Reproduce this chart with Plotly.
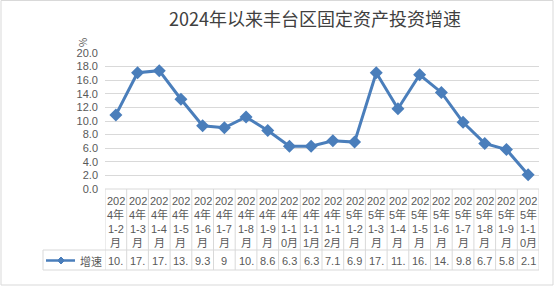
import plotly.graph_objects as go

# ---------------- data ----------------
TITLE = "2024年以来丰台区固定资产投资增速"
UNIT = "%"
SERIES_NAME = "增速"
CATEGORIES = [
    "2024年1-2月", "2024年1-3月", "2024年1-4月", "2024年1-5月", "2024年1-6月",
    "2024年1-7月", "2024年1-8月", "2024年1-9月", "2024年1-10月", "2024年1-11月",
    "2024年1-12月", "2025年1-2月", "2025年1-3月", "2025年1-4月", "2025年1-5月",
    "2025年1-6月", "2025年1-7月", "2025年1-8月", "2025年1-9月", "2025年1-10月",
]
VALUES = [10.9, 17.1, 17.4, 13.2, 9.3, 9.0, 10.6, 8.6, 6.3, 6.3,
          7.1, 6.9, 17.1, 11.8, 16.8, 14.2, 9.8, 6.7, 5.8, 2.1]
Y_TICKS = [0, 2, 4, 6, 8, 10, 12, 14, 16, 18, 20]

# ---------------- layout constants (pixels) ----------------
W, H = 556, 288
L, R, T, B = 105, 539, 53, 189          # plot area
HDR_BOTTOM = 250                         # bottom of header row of the data table
ROW_BOTTOM = 270                         # bottom of data row
LEG_LEFT = 43
LINE_COLOR = "#4a7ebb"
GRID = "#d9d9d9"
TXT = "#595959"
FONT = "Noto Sans CJK SC"
NUM_FONT = "Liberation Sans, Noto Sans CJK SC"


def px(x):
    return (x - L) / (R - L)


def py(y):
    return (B - y) / (B - T)


def wrap(label, cap=3):
    """Wrap label like a narrow Excel cell: ascii width 1, CJK width 2."""
    lines, cur, w = [], "", 0
    for ch in label:
        cw = 2 if ord(ch) > 255 else 1
        if w + cw > cap:
            lines.append(cur)
            cur, w = "", 0
        cur += ch
        w += cw
    if cur:
        lines.append(cur)
    return lines


def cell_text(v):
    s = f"{v:g}"
    return s[:3]


fig = go.Figure()
fig.add_trace(go.Scatter(
    x=CATEGORIES, y=VALUES, name=SERIES_NAME, mode="lines+markers",
    line=dict(color=LINE_COLOR, width=3),
    marker=dict(symbol="diamond", size=10, color=LINE_COLOR),
    showlegend=False, cliponaxis=False,
))

shapes = []
annotations = []
n = len(CATEGORIES)
# vertical table lines
for i in range(n + 1):
    shapes.append(dict(type="line", xref="x", yref="paper",
                       x0=i - 0.5, x1=i - 0.5, y0=py(B), y1=py(ROW_BOTTOM),
                       line=dict(color=GRID, width=1)))
# horizontal table lines
for yy, x0 in [(B, L), (HDR_BOTTOM, LEG_LEFT), (ROW_BOTTOM, LEG_LEFT)]:
    shapes.append(dict(type="line", xref="paper", yref="paper",
                       x0=px(x0), x1=px(R), y0=py(yy), y1=py(yy),
                       line=dict(color=GRID, width=1)))
# legend cell left border
shapes.append(dict(type="line", xref="paper", yref="paper",
                   x0=px(LEG_LEFT), x1=px(LEG_LEFT), y0=py(HDR_BOTTOM), y1=py(ROW_BOTTOM),
                   line=dict(color=GRID, width=1)))
# outer chart border
shapes.append(dict(type="rect", xref="paper", yref="paper",
                   x0=px(1), x1=px(553), y0=py(0.5), y1=py(285),
                   line=dict(color=GRID, width=1), layer="below"))
# legend key
ky = (HDR_BOTTOM + ROW_BOTTOM) / 2 + 0.5
shapes.append(dict(type="line", xref="paper", yref="paper",
                   x0=px(46), x1=px(75), y0=py(ky), y1=py(ky),
                   line=dict(color=LINE_COLOR, width=2.5)))
cx, d = 61, 3.5
path = (f"M {px(cx)},{py(ky - d)} L {px(cx + d)},{py(ky)} "
        f"L {px(cx)},{py(ky + d)} L {px(cx - d)},{py(ky)} Z")
shapes.append(dict(type="path", xref="paper", yref="paper", path=path,
                   fillcolor=LINE_COLOR, line=dict(color=LINE_COLOR, width=1)))

# header cells: one annotation per wrapped line, 14 px apart
HDR_LINE0 = 200.5
HDR_STEP = 14
for cat, v in zip(CATEGORIES, VALUES):
    for k, part in enumerate(wrap(cat)):
        annotations.append(dict(x=cat, xref="x", y=py(HDR_LINE0 + k * HDR_STEP), yref="paper",
                                text=part, showarrow=False, xanchor="center", yanchor="middle",
                                font=dict(family=NUM_FONT, size=11, color=TXT)))
    annotations.append(dict(x=cat, xref="x", y=py(ky), yref="paper",
                            text=cell_text(v), showarrow=False, xanchor="center", yanchor="middle",
                            font=dict(family=NUM_FONT, size=11, color=TXT)))
annotations.append(dict(x=px(90.5), xref="paper", y=py(ky), yref="paper",
                        text=SERIES_NAME, showarrow=False, xanchor="center", yanchor="middle",
                        font=dict(family=FONT, size=11, color=TXT)))
annotations.append(dict(x=px(82), xref="paper", y=py(43), yref="paper",
                        text=UNIT, showarrow=False, xanchor="center", yanchor="middle",
                        textangle=-90, font=dict(family=FONT, size=10, color=TXT)))

fig.update_layout(
    width=W, height=H,
    margin=dict(l=L, r=W - R, t=T, b=H - B, pad=0),
    paper_bgcolor="white", plot_bgcolor="white",
    title=dict(text=TITLE, x=315 / W, xanchor="center", xref="container",
               y=1 - 20 / H, yanchor="middle", yref="container",
               font=dict(family=FONT, size=18, color="#404040")),
    xaxis=dict(type="category", range=[-0.5, n - 0.5], showticklabels=False,
               showgrid=False, zeroline=False, showline=False, ticks=""),
    yaxis=dict(range=[0, 20], tickvals=Y_TICKS, tickformat=".1f",
               showgrid=True, gridcolor=GRID, gridwidth=1, zeroline=False,
               showline=False, ticks="", ticklabelstandoff=6,
               tickfont=dict(family=NUM_FONT, size=11, color=TXT)),
    shapes=shapes, annotations=annotations,
    font=dict(family=FONT),
)

fig.write_html("out.html")
